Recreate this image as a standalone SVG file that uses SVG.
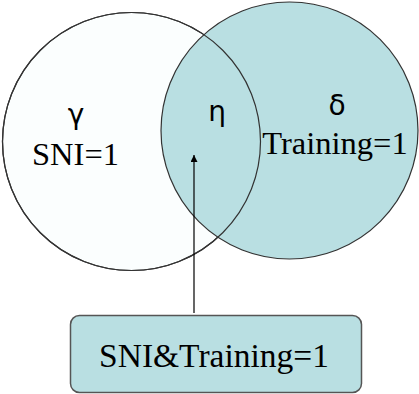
<svg xmlns="http://www.w3.org/2000/svg" width="419" height="394" viewBox="0 0 419 394">
<style>
.circ{stroke:#333;stroke-width:1.2}
.conn{stroke:#000;stroke-width:1.2;fill:none}
.greek{font-family:'DejaVu Sans',sans-serif;font-size:28px;text-anchor:middle;fill:#000}
.lbl{font-family:'Liberation Serif','Times New Roman',serif;font-size:32.5px;text-anchor:middle;fill:#000}
</style>
<defs>
<marker id="arr" viewBox="0 0 10 10" refX="10" refY="5" markerWidth="11" markerHeight="7" markerUnits="userSpaceOnUse" orient="auto">
<path d="M0,0 L10,5 L0,10 Z" fill="#000"/>
</marker>
</defs>
<rect width="419" height="394" fill="#fff"/>
<g id="gamma">
<circle cx="131.5" cy="141.5" r="129" fill="#fbfefe" class="circ"/>
</g>
<g id="delta">
<circle cx="289.5" cy="130.5" r="128.5" fill="#b9dfe2" class="circ"/>
</g>
<g id="gamma-outline">
<circle cx="131.5" cy="141.5" r="129" fill="none" class="circ"/>
<text x="76" y="124" class="greek">γ</text>
<text x="75.5" y="165" class="lbl">SNI=1</text>
</g>
<g id="delta-labels">
<text x="337" y="115" class="greek">δ</text>
<text x="335" y="154" class="lbl">Training=1</text>
</g>
<g id="eta">
<text x="217" y="121" class="greek">η</text>
</g>
<g id="box">
<rect x="70.5" y="315.5" width="291" height="77" rx="9" ry="9" fill="#b9dfe2" stroke="#555" stroke-width="1.5"/>
<text x="214" y="367" class="lbl" style="font-size:33.5px">SNI&amp;Training=1</text>
</g>
<g id="connectors">
<line x1="194" y1="313" x2="194" y2="155" class="conn" marker-end="url(#arr)"/>
</g>
</svg>
